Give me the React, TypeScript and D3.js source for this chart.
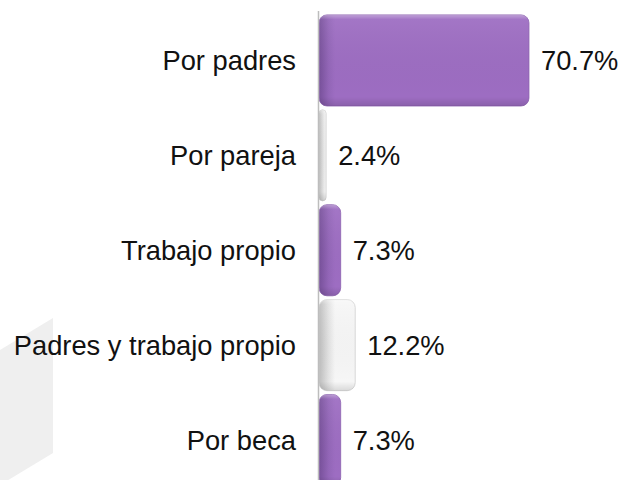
import React from "react";
import * as d3 from "d3";

const categories = ["Por padres", "Por pareja", "Trabajo propio", "Padres y trabajo propio", "Por beca"];
const values = [70.7, 2.4, 7.3, 12.2, 7.3];
const valueLabels = ["70.7%", "2.4%", "7.3%", "12.2%", "7.3%"];
const barKinds = ["purple", "white", "purple", "white", "purple"];

const W = 620;
const H = 480;

export default function App() {
  const x = d3.scaleLinear().domain([0, 80]).range([319, 319 + 80 * 2.97]);
  const y = d3.scaleBand<string>().domain(categories).range([13, 487.5]).paddingInner(0.04).paddingOuter(0.02);
  const font = "Arial, 'Liberation Sans', sans-serif";
  const fs = 27.3;

  return (
    <svg width={W} height={H} style={{ position: "fixed", left: 0, top: 0, background: "#fff" }}>
      <defs>
        <linearGradient id="vshade" x1="0" y1="0" x2="0" y2="1">
          <stop offset="0" stopColor="#fff" stopOpacity="0.35" />
          <stop offset="0.05" stopColor="#fff" stopOpacity="0.06" />
          <stop offset="0.9" stopColor="#000" stopOpacity="0" />
          <stop offset="1" stopColor="#000" stopOpacity="0.12" />
        </linearGradient>
      </defs>
      <polygon points="0,350 53,318 53,453 0,485" fill="#efefef" />
      {categories.map((c, i) => {
        const x0 = x(0);
        const x1 = x(values[i]);
        const y0 = y(c)!;
        const bh = y.bandwidth();
        const w = x1 - x0;
        const purple = barKinds[i] === "purple";
        const gid = `hg${i}`;
        const shadeW = Math.min(16, w);
        return (
          <g key={c}>
            <defs>
              <linearGradient id={gid} gradientUnits="userSpaceOnUse" x1={x0} y1={0} x2={x0 + shadeW} y2={0}>
                {purple ? (
                  <>
                    <stop offset="0" stopColor="#77509a" />
                    <stop offset="0.6" stopColor="#9366b8" />
                    <stop offset="1" stopColor="#9d6dc2" />
                  </>
                ) : (
                  <>
                    <stop offset="0" stopColor="#bdbdbd" />
                    <stop offset="0.6" stopColor="#e3e3e3" />
                    <stop offset="1" stopColor="#f6f6f6" />
                  </>
                )}
              </linearGradient>
            </defs>
            <rect
              x={x0}
              y={y0}
              width={w}
              height={bh}
              rx={Math.min(8, w / 2)}
              fill={`url(#${gid})`}
              stroke={purple ? "#8a5fae" : "#d0d0d0"}
              strokeWidth={0.8}
            />
            <rect x={x0} y={y0} width={w} height={bh} rx={Math.min(8, w / 2)} fill="url(#vshade)" />
            <text
              x={296}
              y={y0 + bh / 2}
              dy="0.35em"
              textAnchor="end"
              fontFamily={font}
              fontSize={fs}
              fill="#111"
            >
              {c}
            </text>
            <text
              x={x1 + 12}
              y={y0 + bh / 2}
              dy="0.35em"
              textAnchor="start"
              fontFamily={font}
              fontSize={fs}
              fill="#111"
            >
              {valueLabels[i]}
            </text>
          </g>
        );
      })}
      <line x1={318.5} x2={318.5} y1={11} y2={H} stroke="#bdbdbd" strokeWidth={1.5} />
    </svg>
  );
}
